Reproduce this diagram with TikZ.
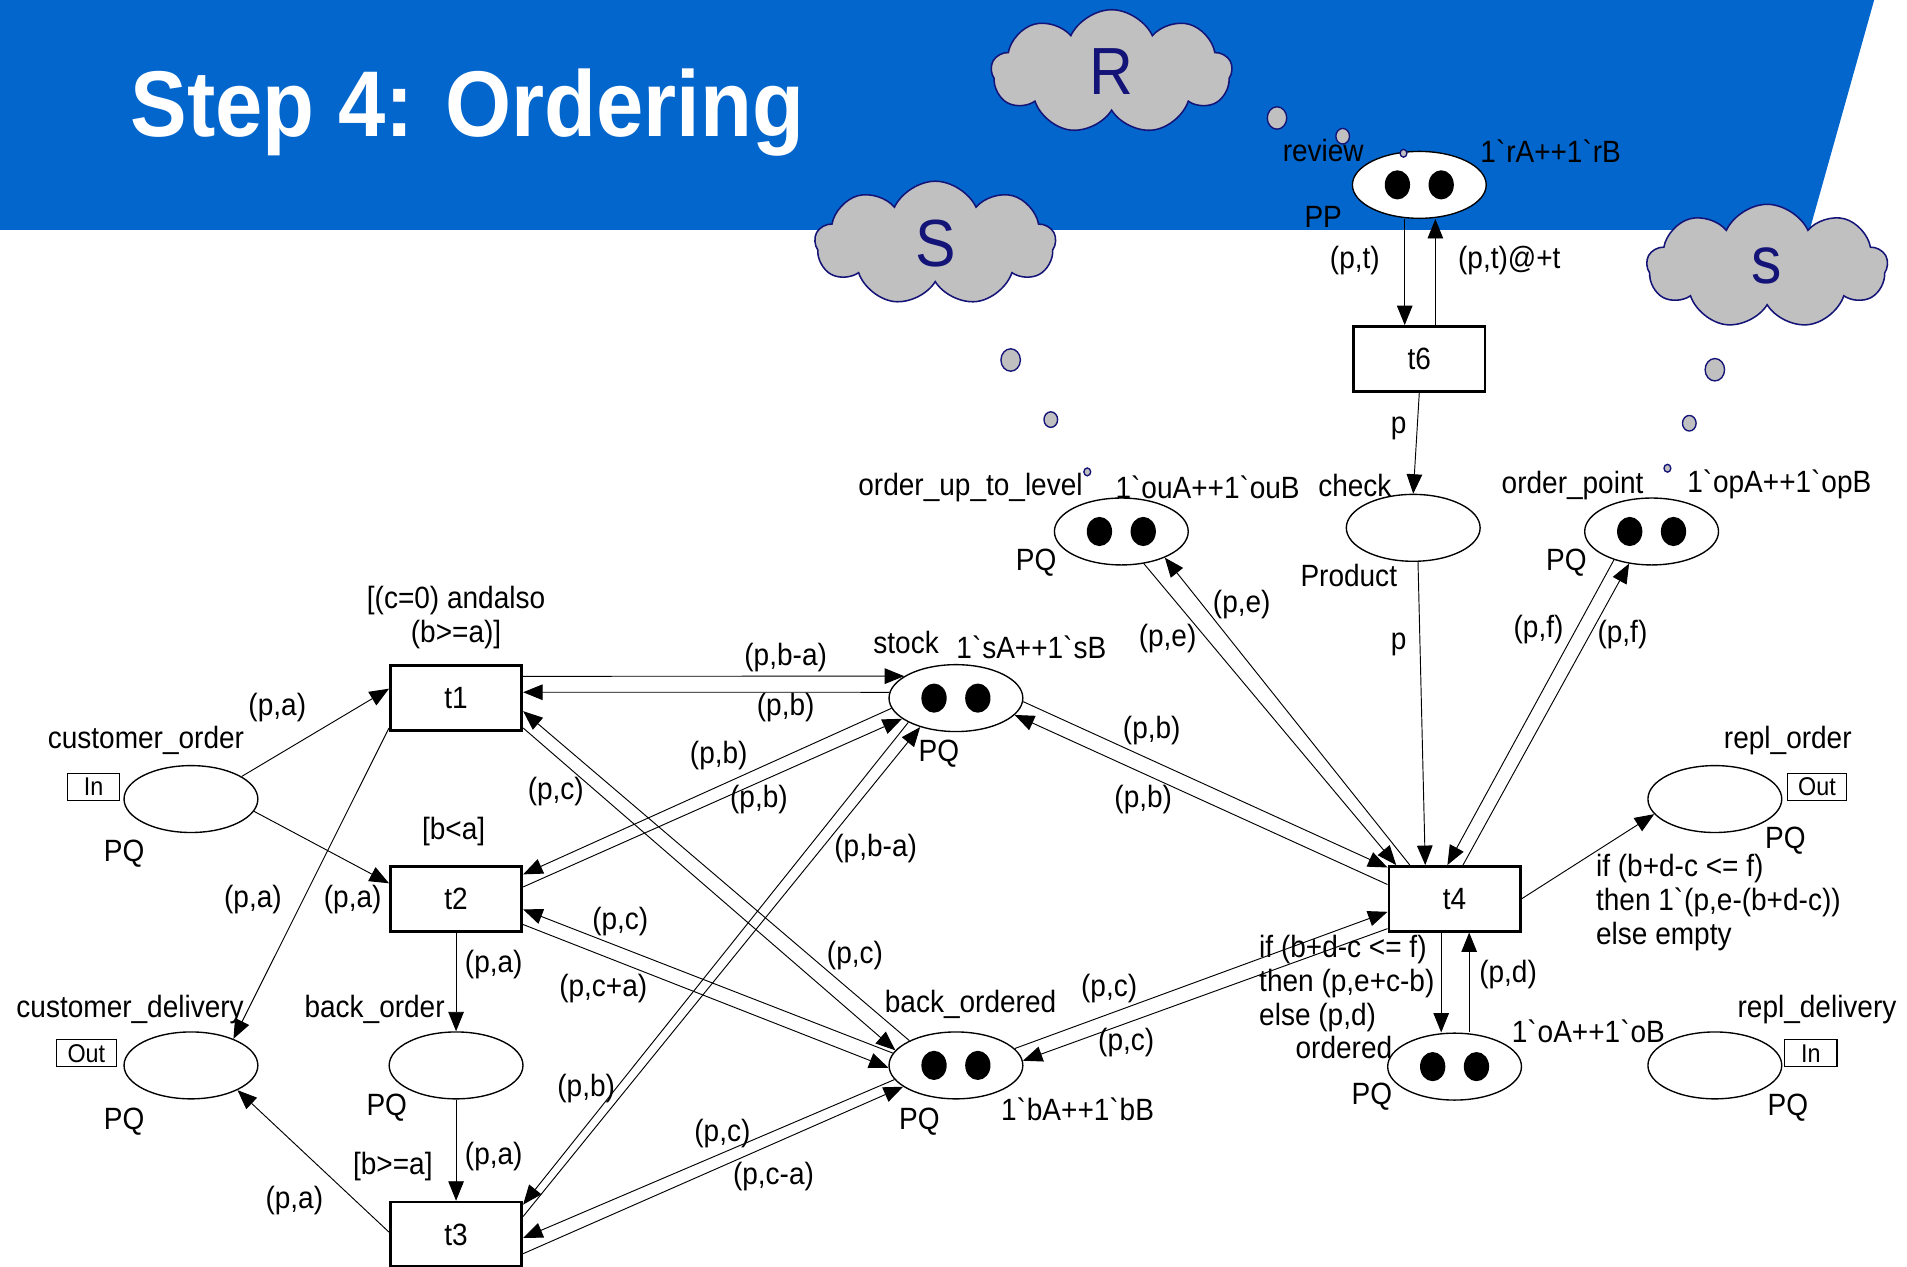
\documentclass[tikz,border=0pt]{standalone}
\usepackage{fontspec}
\setmainfont{Liberation Sans}[FakeStretch=0.91]
\usetikzlibrary{arrows.meta, shapes.geometric, shapes.symbols}
\definecolor{slideblue}{RGB}{3,102,204}
\definecolor{thinknavy}{RGB}{20,20,120}
\definecolor{thinkgray}{RGB}{192,192,192}
\newcommand{\bq}{\textasciigrave}
\newcommand{\netfont}{\fontsize{18}{19.9}\selectfont}
\newcommand{\portfont}{\fontsize{15}{17}\selectfont}
\newcommand{\cloudfont}{\fontsize{39}{42}\selectfont}
% two black tokens inside a place
\newcommand{\twotokens}[1]{%
  \fill ([xshift=-0.45cm]#1.center) ellipse (0.26cm and 0.3cm);
  \fill ([xshift=0.45cm]#1.center) ellipse (0.26cm and 0.3cm);}
\tikzset{
  place/.style={ellipse, draw, line width=0.8pt, fill=white,
    minimum width=2.75cm, minimum height=1.375cm, inner sep=0pt},
  trans/.style={rectangle, draw, line width=1.6pt, fill=white,
    minimum width=2.7cm, minimum height=1.33cm, inner sep=0pt},
  arc/.style={-{Triangle[length=0.4cm, width=0.32cm]}, line width=0.55pt},
  port/.style={draw, line width=0.7pt, font=\portfont, inner sep=0pt,
    minimum width=1.075cm, minimum height=0.55cm},
  think/.style={cloud, cloud puffs=9, cloud puff arc=130, cloud ignores aspect,
    draw=thinknavy, fill=thinkgray, line width=0.9pt, minimum width=4.95cm,
    minimum height=2.55cm, text=thinknavy, font=\cloudfont},
  bubble/.style={draw=thinknavy, fill=thinkgray, line width=0.8pt}
}

\begin{document}
\begin{tikzpicture}[x=0.025cm, y=-0.025cm, every node/.style={font=\netfont}]
  \useasboundingbox (0,0) rectangle (1568,1041);

  % Title band
  \fill[slideblue] (0,0) -- (1541,0) -- (1488,189) -- (0,189) -- cycle;
  \node[text=white, font=\fontsize{54.6}{60}\selectfont\bfseries,
        anchor=base west, inner sep=0pt] (title) at (107,112) {Step 4: Ordering};

  % Thought clouds
  \node[think] (cloud-r) at (914,59) {R};
  \node[think] (cloud-s) at (769,200) {S};
  \node[think] (cloud-sp) at (1453,219) {s};

  % Places
  \node[place] (co)  at (157,657)  {};
  \node[place] (cd)  at (157,876)  {};
  \node[place] (bko) at (375,876)  {};
  \node[place] (st)  at (786,574)  {};
  \node[place] (bkd) at (786,876)  {};
  \node[place] (oul) at (922,437)  {};
  \node[place] (ck)  at (1162,434) {};
  \node[place] (op)  at (1358,437) {};
  \node[place] (rv)  at (1167,152) {};
  \node[place] (ord) at (1196,877) {};
  \node[place] (ro)  at (1410,657) {};
  \node[place] (rd)  at (1410,876) {};

  \twotokens{st}
  \twotokens{bkd}
  \twotokens{oul}
  \twotokens{op}
  \twotokens{rv}
  \twotokens{ord}

  % Transitions
  \node[trans] (t1) at (375,574)  {t1};
  \node[trans] (t2) at (375,739)  {t2};
  \node[trans] (t3) at (375,1015) {t3};
  \node[trans] (t4) at (1196,739) {t4};
  \node[trans] (t6) at (1167,295) {t6};

  % Port tags
  \node[port] (co-port) at (77,647)   {In};
  \node[port, minimum width=1.225cm] (cd-port) at (71,866) {Out};
  \node[port, minimum width=1.225cm] (ro-port) at (1494,647) {Out};
  \node[port] (rd-port) at (1489,866) {In};

  % Place names, colour sets and markings
  \node (co-name)  at (120,609)  {customer\_order};
  \node (co-type)  at (102,702)  {PQ};
  \node (cd-name)  at (107,830)  {customer\_delivery};
  \node (cd-type)  at (102,922)  {PQ};
  \node (bko-name) at (308,830)  {back\_order};
  \node (bko-type) at (318,911)  {PQ};
  \node (st-name)  at (745,528)  {stock};
  \node (st-init)  at (848,532)  {1\bq sA++1\bq sB};
  \node (st-type)  at (772,620)  {PQ};
  \node (bkd-name) at (798,826)  {back\_ordered};
  \node (bkd-type) at (756,922)  {PQ};
  \node (bkd-init) at (886,912)  {1\bq bA++1\bq bB};
  \node (oul-name) at (798,401)  {order\_up\_to\_level};
  \node (oul-init) at (993,401)  {1\bq ouA++1\bq ouB};
  \node (oul-type) at (852,463)  {PQ};
  \node (ck-name)  at (1114,399) {check};
  \node (ck-type)  at (1109,473) {Product};
  \node (op-name)  at (1293,399) {order\_point};
  \node (op-init)  at (1463,398) {1\bq opA++1\bq opB};
  \node (op-type)  at (1288,463) {PQ};
  \node (rv-name)  at (1088,124) {review};
  \node (rv-init)  at (1275,124) {1\bq rA++1\bq rB};
  \node (rv-type)  at (1088,178) {PP};
  \node (ord-name) at (1105,861) {ordered};
  \node (ord-init) at (1306,848) {1\bq oA++1\bq oB};
  \node (ord-type) at (1128,902) {PQ};
  \node (ro-name)  at (1470,609) {repl\_order};
  \node (ro-type)  at (1468,691) {PQ};
  \node (rd-name)  at (1494,830) {repl\_delivery};
  \node (rd-type)  at (1470,911) {PQ};

  % Guards
  \node[align=center] (g1) at (375,508) {[(c=0) andalso\\(b>=a)]};
  \node (g2) at (373,684) {[b<a]};
  \node (g3) at (323,959) {[b>=a]};

  % Customer side
  \draw[arc] (co.24) -- (t1.172) node (i1) at (228,582) {(p,a)};
  \draw[arc] (co.-11) -- (t2.167) node (i2) at (290,740) {(p,a)};
  \draw[arc] (t1.204) -- (cd.32) node (i3) at (208,740) {(p,a)};
  \draw[arc] (t3.178) -- (cd.-28) node (i4) at (242,987) {(p,a)};
  \draw[arc] (t2.south) -- (bko.north) node (i5) at (406,793) {(p,a)};
  \draw[arc] (bko.south) -- (t3.north) node (i6) at (406,951) {(p,a)};

  % stock and back_ordered against t1, t2, t3
  \draw[arc] (t1.18) -- (st.157) node (i7) at (646,541) {(p,b-a)};
  \draw[arc] (st.175) -- (t1.5) node (i8) at (646,582) {(p,b)};
  \draw[arc] (st.189) -- (t2.20) node (i9) at (591,621) {(p,b)};
  \draw[arc] (t2.10) -- (st.201) node (i10) at (624,657) {(p,b)};
  \draw[arc] (bkd.152) -- (t1.-11) node (i11) at (457,651) {(p,c)};
  \draw[arc] (t1.-24) -- (bkd.166) node (i12) at (703,786) {(p,c)};
  \draw[arc] (bkd.169) -- (t2.-9) node (i13) at (510,758) {(p,c)};
  \draw[arc] (t2.-21) -- (bkd.182) node (i14) at (496,813) {(p,c+a)};
  \draw[arc] (st.207) -- (t3.24) node (i15) at (482,895) {(p,b)};
  \draw[arc] (t3.15) -- (st.219) node (i16) at (720,698) {(p,b-a)};
  \draw[arc] (bkd.193) -- (t3.-3) node (i17) at (594,932) {(p,c)};
  \draw[arc] (t3.-16) -- (bkd.202) node (i18) at (636,967) {(p,c-a)};

  % Replenishment transition t4
  \draw[arc] (st.-3) -- (t4.155) node (i19) at (947,601) {(p,b)};
  \draw[arc] (t4.168) -- (st.-16) node (i20) at (940,657) {(p,b)};
  \draw[arc] (bkd.16) -- (t4.191) node (i21) at (912,813) {(p,c)};
  \draw[arc] (t4.204) -- (bkd.4) node (i22) at (926,857) {(p,c)};
  \draw[arc] (oul.-55) -- (t4.150) node (i23) at (960,525) {(p,e)};
  \draw[arc] (t4.143) -- (oul.-31) node (i24) at (1021,497) {(p,e)};
  \draw[arc] (ck.-82) -- (t4.131) node (i25) at (1150,530) {p};
  \draw[arc] (op.217) -- (t4.102) node (i26) at (1265,518) {(p,f)};
  \draw[arc] (t4.76) -- (op.235) node (i27) at (1334,522) {(p,f)};
  \draw[arc] (t4.east) -- (ro.194)
    node[align=left, anchor=west, inner sep=0pt] (i28) at (1312,742)
    {if (b+d-c <= f)\\then 1\bq(p,e-(b+d-c))\\else empty};
  \draw[arc] ([xshift=-0.275cm]t4.south) -- ([xshift=-0.275cm]ord.north)
    node[align=left, anchor=west, inner sep=0pt] (i29) at (1035,809)
    {if (b+d-c <= f)\\then (p,e+c-b)\\else (p,d)};
  \draw[arc] ([xshift=0.3cm]ord.north) -- ([xshift=0.3cm]t4.south)
    node (i30) at (1240,801) {(p,d)};

  % Review loop
  \draw[arc] ([xshift=-0.3cm]rv.south) -- ([xshift=-0.3cm]t6.north)
    node (i31) at (1114,214) {(p,t)};
  \draw[arc] ([xshift=0.33cm]t6.north) -- ([xshift=0.33cm]rv.south)
    node (i32) at (1241,214) {(p,t)@+t};
  \draw[arc] (t6.south) -- (ck.north) node (i33) at (1150,352) {p};

  % Thought bubbles
  \draw[bubble] (1050,97)  ellipse (0.2cm and 0.23cm);
  \draw[bubble] (1104,112) ellipse (0.14cm and 0.16cm);
  \draw[bubble] (1154,126) ellipse (0.07cm and 0.08cm);
  \draw[bubble] (831,296)  ellipse (0.2cm and 0.23cm);
  \draw[bubble] (864,345)  ellipse (0.14cm and 0.16cm);
  \draw[bubble] (894,388)  ellipse (0.07cm and 0.08cm);
  \draw[bubble] (1410,304) ellipse (0.2cm and 0.23cm);
  \draw[bubble] (1389,348) ellipse (0.14cm and 0.16cm);
  \draw[bubble] (1371,385) ellipse (0.07cm and 0.08cm);
\end{tikzpicture}
\end{document}
